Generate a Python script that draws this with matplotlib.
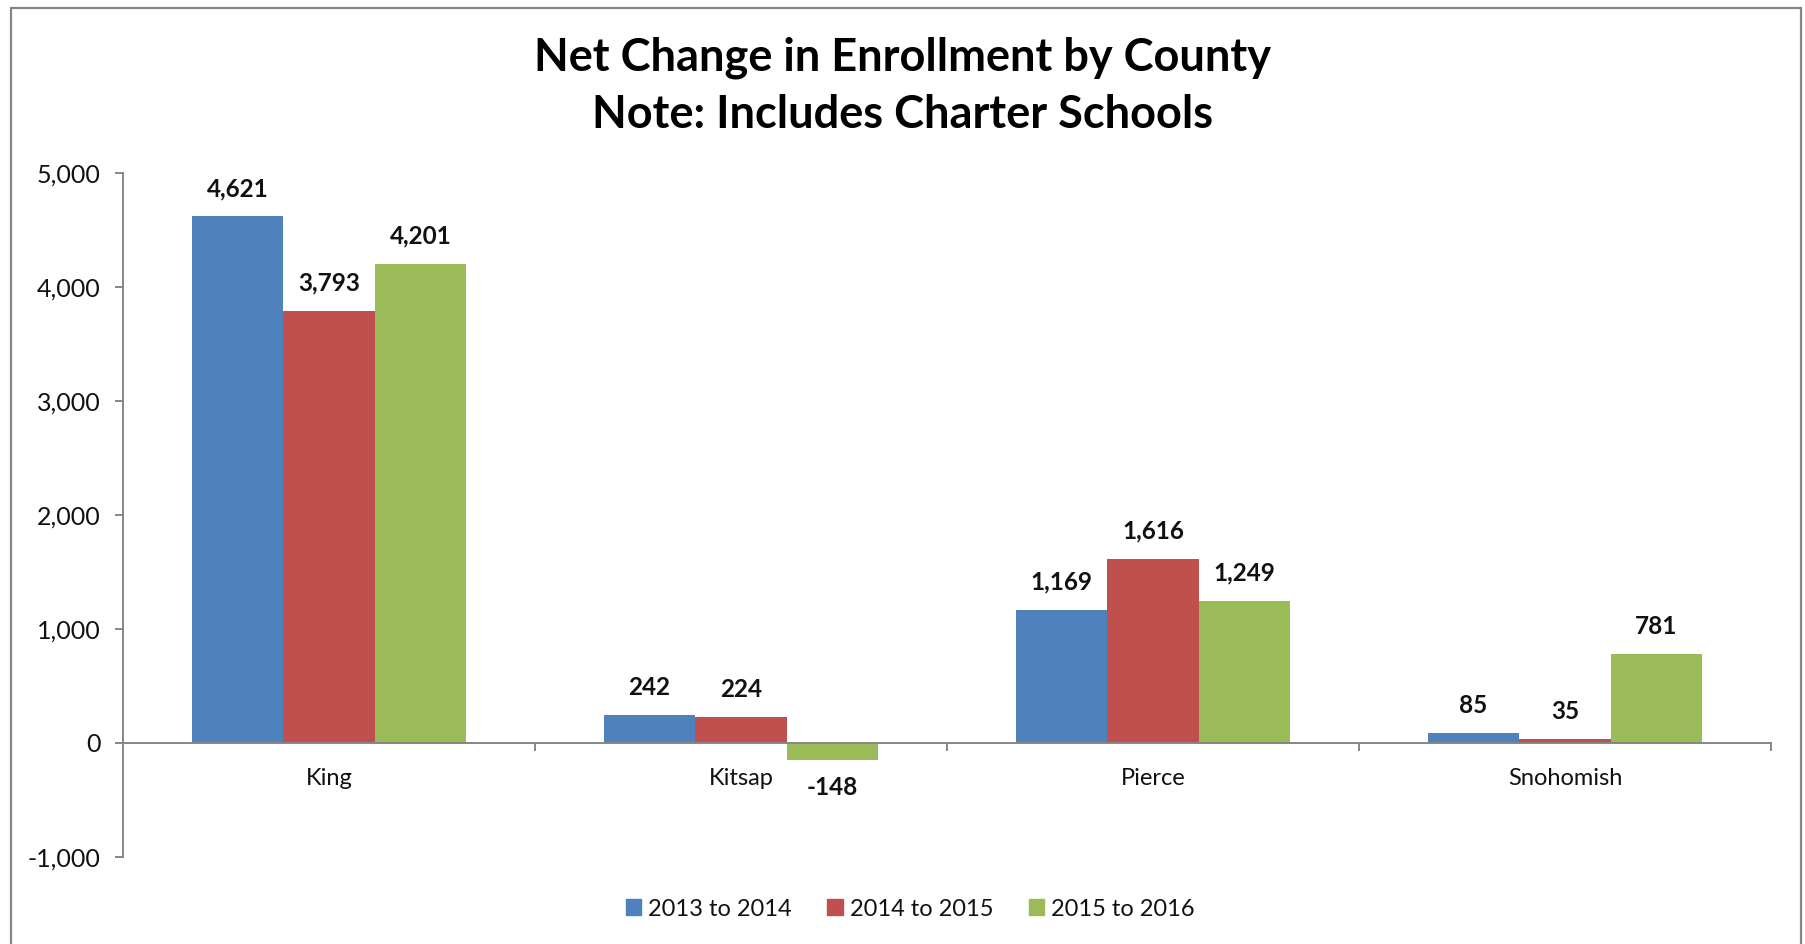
import numpy as np
import matplotlib
matplotlib.use("Agg")
import matplotlib.pyplot as plt
from matplotlib.patches import Rectangle, Patch
from matplotlib.ticker import FuncFormatter, FixedLocator

plt.rcParams['font.family'] = ['Lato', 'DejaVu Sans']

counties = ["King", "Kitsap", "Pierce", "Snohomish"]
series_names = ["2013 to 2014", "2014 to 2015", "2015 to 2016"]
vals_2013_2014 = [4621, 242, 1169, 85]
vals_2014_2015 = [3793, 224, 1616, 35]
vals_2015_2016 = [4201, -148, 1249, 781]
colors = ["#4F81BD", "#C0504D", "#9BBB59"]
yticks = [-1000, 0, 1000, 2000, 3000, 4000, 5000]

axis_gray = "#868686"

fig = plt.figure(figsize=(18.06, 9.44), dpi=100)
ax = fig.add_axes([0.0681, 0.0922, 0.9125, 0.7245])

x = np.arange(len(counties))
width = 2 / 9
all_vals = [vals_2013_2014, vals_2014_2015, vals_2015_2016]
for i, (vals, name, col) in enumerate(zip(all_vals, series_names, colors)):
    pos = x + (i - 1) * width
    ax.bar(pos, vals, width=width, color=col, label=name, zorder=2)
    for px, v in zip(pos, vals):
        off = 20 if v >= 0 else -20
        ax.annotate(f"{v:,}", (px, v), xytext=(0, off), textcoords="offset points",
                    ha="center", va="center", fontsize=17.5, fontweight="bold",
                    color="#111111")

ax.set_xlim(-0.5, 3.5)
ax.set_ylim(-1000, 5000)
ax.set_yticks(yticks)
ax.yaxis.set_major_formatter(FuncFormatter(lambda v, p: f"{int(v):,}"))

# x axis sits on zero, ticks at category boundaries, labels at centres
ax.spines['bottom'].set_position(('data', 0))
ax.spines['top'].set_visible(False)
ax.spines['right'].set_visible(False)
for s in ['left', 'bottom']:
    ax.spines[s].set_color(axis_gray)
    ax.spines[s].set_linewidth(1.4)
    ax.spines[s].set_zorder(3)

ax.xaxis.set_major_locator(FixedLocator([0.5, 1.5, 2.5, 3.5]))
ax.xaxis.set_minor_locator(FixedLocator(x))
ax.xaxis.set_major_formatter(FuncFormatter(lambda v, p: ""))
ax.set_xticks(x, counties, minor=True)
ax.tick_params(axis='x', which='major', direction='out', length=6, width=1.4,
               color=axis_gray)
ax.tick_params(axis='x', which='minor', length=0, pad=18, labelsize=17,
               labelcolor="#111111")
ax.tick_params(axis='y', direction='out', length=6, width=1.4, color=axis_gray,
               pad=10, labelsize=18, labelcolor="#111111")

fig.text(0.5, 0.939, "Net Change in Enrollment by County", ha="center", va="center",
         fontsize=32.5, fontweight="bold", color="black")
fig.text(0.5, 0.878, "Note: Includes Charter Schools", ha="center", va="center",
         fontsize=32.5, fontweight="bold", color="black")

handles = [Patch(facecolor=c, edgecolor=c) for c in colors]
fig.legend(handles, series_names, loc="center", bbox_to_anchor=(0.504, 0.037),
           ncol=3, frameon=False, fontsize=17, handlelength=0.65, handleheight=0.65,
           handletextpad=0.3, columnspacing=1.5, labelcolor="#111111")

# chart area frame
fig.patches.append(Rectangle((11 / 1806, -0.05), 1790 / 1806, 0.05 + (944 - 8) / 944,
                             transform=fig.transFigure, fill=False,
                             edgecolor=axis_gray, linewidth=1.6))

fig.savefig("out.png", dpi=100)
